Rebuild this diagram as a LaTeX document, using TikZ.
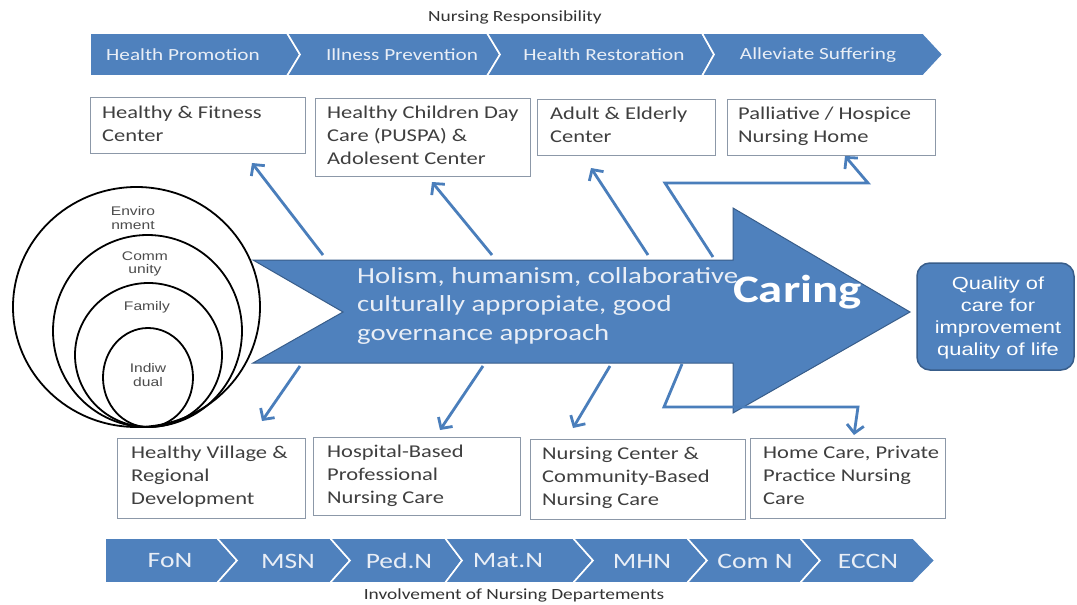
\documentclass[tikz,border=0pt]{standalone}
\usepackage{fontspec}
\setmainfont{Carlito}[FakeStretch=1.25]
\newfontfamily\arialf{Liberation Sans}[FakeStretch=1.25]
\usetikzlibrary{arrows.meta}
\definecolor{cblue}{HTML}{4F81BD}
\definecolor{cdark}{HTML}{385D8A}
\definecolor{lnblue}{HTML}{4A7EBB}
\definecolor{boxgray}{HTML}{8C98A8}
\definecolor{txtgray}{HTML}{3F3F3F}
\definecolor{paletxt}{HTML}{E9EEF6}
\tikzset{
  band/.style={fill=cblue, draw=white, line width=1.6pt, line join=miter},
  toptxt/.style={text=paletxt, inner sep=0pt, font=\fontsize{17}{20}\selectfont},
  bottxt/.style={text=paletxt, inner sep=0pt, font=\fontsize{22}{26}\selectfont},
  boxst/.style={draw=boxgray, line width=1pt, fill=white, inner sep=0pt, anchor=north west},
  boxtxt/.style={text=txtgray, inner sep=0pt, anchor=north west, align=left, font=\fontsize{18}{23}\selectfont},
  conn/.style={draw=lnblue, line width=2.8pt, line join=miter, -{Straight Barb[length=8pt,width=17pt,line width=2.8pt]}},
  ring/.style={draw=black, line width=1.8pt},
  ringtxt/.style={text=black!70, inner sep=0pt, align=center, font=\arialf\fontsize{12.5}{13.5}\selectfont},
  title/.style={text=black!80, inner sep=0pt, font=\fontsize{15.5}{18}\selectfont}
}
\begin{document}
\begin{tikzpicture}[x=1pt,y=-1pt]
\useasboundingbox (0,0) rectangle (1077,605);
\fill[white] (0,0) rectangle (1077,605);

% ---------- top band ----------
\node[title] (ttl) at (515,17) {Nursing Responsibility};
\path[band] (90,33) -- (287,33) -- (300,54.5) -- (287,76) -- (90,76) -- cycle;
\path[band] (287,33) -- (487,33) -- (500,54.5) -- (487,76) -- (287,76) -- (300,54.5) -- cycle;
\path[band] (487,33) -- (702,33) -- (714,54.5) -- (702,76) -- (487,76) -- (500,54.5) -- cycle;
\path[band] (702,33) -- (923,33) -- (943,54.5) -- (923,76) -- (702,76) -- (714,54.5) -- cycle;
\node[toptxt] (tp1) at (183,55) {Health Promotion};
\node[toptxt] (tp2) at (402,55) {Illness Prevention};
\node[toptxt] (tp3) at (604,55) {Health Restoration};
\node[toptxt] (tp4) at (818,55) {Alleviate Suffering};

% ---------- top boxes ----------
\node[boxst, minimum width=215, minimum height=56] (b1) at (90,97) {};
\node[boxtxt] (t1) at (102,106) {Healthy \& Fitness\\Center};
\node[boxst, minimum width=215, minimum height=78] (b2) at (315,98) {};
\node[boxtxt] (t2) at (327,106) {Healthy Children Day\\Care (PUSPA) \&\\Adolesent Center};
\node[boxst, minimum width=178, minimum height=56] (b3) at (537,99) {};
\node[boxtxt] (t3) at (550,107) {Adult \& Elderly\\Center};
\node[boxst, minimum width=208, minimum height=56] (b4) at (727,99) {};
\node[boxtxt] (t4) at (738,107) {Palliative / Hospice\\Nursing Home};

% ---------- bottom boxes ----------
\node[boxst, minimum width=188, minimum height=80] (c1) at (117,438) {};
\node[boxtxt] (u1) at (131,446) {Healthy Village \&\\Regional\\Development};
\node[boxst, minimum width=207, minimum height=78] (c2) at (313,437) {};
\node[boxtxt] (u2) at (327,445) {Hospital-Based\\Professional\\Nursing Care};
\node[boxst, minimum width=215, minimum height=80] (c3) at (530,439) {};
\node[boxtxt] (u3) at (542,447) {Nursing Center \&\\Community-Based\\Nursing Care};
\node[boxst, minimum width=195, minimum height=80] (c4) at (750,438) {};
\node[boxtxt] (u4) at (763,446) {Home Care, Private\\Practice Nursing\\Care};

% ---------- big arrow ----------
\coordinate (tl) at (253,260);
\coordinate (bl) at (253,363);
\coordinate (nt) at (343,312);
\coordinate (ht) at (733,260);
\coordinate (hb) at (733,363);
\coordinate (htt) at (733,208);
\coordinate (hbb) at (733,413);
\coordinate (tip) at (910,312);
\path[fill=cblue, draw=cdark, line width=1pt] (tl) -- (ht) -- (htt) -- (tip) -- (hbb) -- (hb) -- (bl) -- (nt) -- cycle;
\node[text=paletxt, inner sep=0pt, anchor=north west, align=left, font=\fontsize{23}{28.5}\selectfont] (phil) at (357,267)
  {Holism, humanism, collaborative,\\culturally appropiate, good\\governance approach};
\node[text=white, inner sep=0pt, anchor=base west, font=\bfseries\fontsize{39}{44}\selectfont] (car) at (733,302) {Caring};

% ---------- quality box ----------
\node[fill=cblue, draw=cdark, line width=1.5pt, rounded corners=13pt, minimum width=157, minimum height=107, inner sep=0pt] (q) at (995.5,316.5) {};
\node[text=white, inner sep=0pt, align=center, font=\arialf\fontsize{17.5}{22.3}\selectfont] (qt) at (998,318) {Quality of\\care for\\improvement\\quality of life};

% ---------- circles ----------
\draw[ring] (136.5,307) ellipse [x radius=123.5, y radius=120];
\draw[ring] (147.5,331) ellipse [x radius=94.5, y radius=96];
\draw[ring] (148.5,355) ellipse [x radius=73.5, y radius=72];
\draw[ring] (148,377.5) ellipse [x radius=45, y radius=49.5];
\node[ringtxt] (r1) at (133,218) {Enviro\\nment};
\node[ringtxt] (r2) at (145,264) {Comm\\unity};
\node[ringtxt] (r3) at (147,307) {Family};
\node[ringtxt] (r4) at (148,375) {Indiw\\dual};

% ---------- connectors ----------
\coordinate (s1) at (323,255); \coordinate (e1) at (252,163);
\coordinate (s2) at (492,255); \coordinate (e2) at (432,182);
\coordinate (s3) at (648,255); \coordinate (e3) at (591,168);
\coordinate (s4) at (713,257); \coordinate (k4a) at (665,183); \coordinate (k4b) at (868,183); \coordinate (e4) at (845,156);
\draw[conn] (s1) -- (e1);
\draw[conn] (s2) -- (e2);
\draw[conn] (s3) -- (e3);
\draw[conn] (s4) -- (k4a) -- (k4b) -- (e4);

\coordinate (d1) at (300,366); \coordinate (f1) at (262,421);
\coordinate (d2) at (483,366); \coordinate (f2) at (440,430);
\coordinate (d3) at (610,366); \coordinate (f3) at (573,428);
\coordinate (d4) at (682,364); \coordinate (k5a) at (664,407); \coordinate (k5b) at (858,407); \coordinate (f4) at (854,435);
\draw[conn] (d1) -- (f1);
\draw[conn] (d2) -- (f2);
\draw[conn] (d3) -- (f3);
\draw[conn] (d4) -- (k5a) -- (k5b) -- (f4);

% ---------- bottom band ----------
\path[band] (105,538) -- (217,538) -- (237,560.5) -- (217,583) -- (105,583) -- cycle;
\path[band] (217,538) -- (330,538) -- (350,560.5) -- (330,583) -- (217,583) -- (237,560.5) -- cycle;
\path[band] (330,538) -- (445,538) -- (462,560.5) -- (445,583) -- (330,583) -- (350,560.5) -- cycle;
\path[band] (445,538) -- (573,538) -- (593,560.5) -- (573,583) -- (445,583) -- (462,560.5) -- cycle;
\path[band] (573,538) -- (687,538) -- (707,560.5) -- (687,583) -- (573,583) -- (593,560.5) -- cycle;
\path[band] (687,538) -- (800,538) -- (820,560.5) -- (800,583) -- (687,583) -- (707,560.5) -- cycle;
\path[band] (800,538) -- (913,538) -- (935,560.5) -- (913,583) -- (800,583) -- (820,560.5) -- cycle;
\node[bottxt] (n1) at (170,561) {FoN};
\node[bottxt] (n2) at (288,561) {MSN};
\node[bottxt] (n3) at (399,561) {Ped.N};
\node[bottxt] (n4) at (508,561) {Mat.N};
\node[bottxt] (n5) at (642,561) {MHN};
\node[bottxt] (n6) at (755,561) {Com N};
\node[bottxt] (n7) at (868,561) {ECCN};
\node[title] (btl) at (514,595) {Involvement of Nursing Departements};
\end{tikzpicture}
\end{document}
